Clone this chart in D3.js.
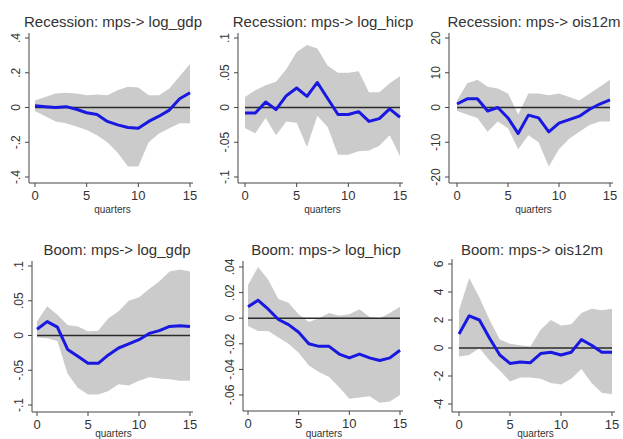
<!DOCTYPE html>
<html><head><meta charset="utf-8">
<script src="https://cdn.jsdelivr.net/npm/d3@7"></script>
<style>body{margin:0;background:#fff}svg{display:block}</style>
</head><body>
<script>
const quarters = d3.range(0,16);
const xTicks = [0,5,10,15];

const titles = ["Recession: mps-> log_gdp","Recession: mps-> log_hicp","Recession: mps-> ois12m",
                "Boom: mps-> log_gdp","Boom: mps-> log_hicp","Boom: mps-> ois12m"];

// Recession log_gdp
const recGdpIrf = [0.01,0.005,0,0.005,-0.01,-0.03,-0.04,-0.08,-0.1,-0.115,-0.12,-0.08,-0.05,-0.015,0.05,0.085];
const recGdpHi  = [0.04,0.06,0.08,0.085,0.08,0.07,0.075,0.07,0.1,0.12,0.115,0.07,0.07,0.11,0.18,0.25];
const recGdpLo  = [-0.02,-0.05,-0.08,-0.09,-0.11,-0.13,-0.16,-0.2,-0.26,-0.34,-0.34,-0.2,-0.15,-0.12,-0.09,-0.09];
// Recession log_hicp
const recHicpIrf = [-0.008,-0.008,0.008,-0.003,0.017,0.028,0.016,0.036,0.013,-0.01,-0.01,-0.006,-0.02,-0.016,-0.002,-0.014];
const recHicpHi  = [0.015,0.025,0.032,0.037,0.055,0.08,0.09,0.085,0.06,0.05,0.05,0.052,0.022,0.022,0.035,0.045];
const recHicpLo  = [-0.03,-0.037,-0.015,-0.04,-0.02,-0.022,-0.057,-0.012,-0.028,-0.068,-0.068,-0.063,-0.062,-0.055,-0.04,-0.07];
// Recession ois12m
const recOisIrf = [1,2.5,2.5,-1,0,-3,-7.5,-2.2,-3,-7,-4.5,-3.5,-2.5,-0.5,1,2.2];
const recOisHi  = [2,7,8,6,5.5,4,-2,4,4,3.5,4,3,2,4,6,8];
const recOisLo  = [-1,-2,-3,-7,-4,-6,-12,-8,-10,-17,-12,-9,-7,-5,-4,-4];
// Boom log_gdp
const boomGdpIrf = [0.009,0.02,0.012,-0.02,-0.03,-0.04,-0.04,-0.028,-0.018,-0.012,-0.006,0.003,0.007,0.013,0.014,0.013];
const boomGdpHi  = [0.02,0.042,0.03,0.015,0.013,0.006,0.007,0.025,0.035,0.05,0.055,0.067,0.078,0.092,0.095,0.092];
const boomGdpLo  = [-0.003,-0.004,-0.008,-0.055,-0.075,-0.085,-0.085,-0.08,-0.07,-0.072,-0.065,-0.06,-0.062,-0.063,-0.065,-0.065];
// Boom log_hicp
const boomHicpIrf = [0.009,0.014,0.007,-0.001,-0.005,-0.011,-0.02,-0.022,-0.022,-0.028,-0.031,-0.028,-0.031,-0.033,-0.031,-0.025];
const boomHicpHi  = [0.026,0.04,0.03,0.015,0.012,0.003,-0.003,0,0.004,0.002,0.003,0.007,0.001,0,0.004,0.009];
const boomHicpLo  = [-0.006,-0.01,-0.01,-0.015,-0.02,-0.027,-0.037,-0.042,-0.046,-0.054,-0.063,-0.062,-0.061,-0.066,-0.065,-0.06];
// Boom ois12m
const boomOisIrf = [1,2.3,2,0.7,-0.5,-1.1,-1,-1.05,-0.4,-0.3,-0.5,-0.3,0.6,0.2,-0.3,-0.3];
const boomOisHi  = [2.7,5,3.6,2,0.6,0.3,0.2,0.1,1.3,2,1.6,1.7,2.5,2.8,2.7,2.8];
const boomOisLo  = [-0.6,-0.5,0,-0.9,-1.6,-2.4,-2.1,-2.1,-2.2,-2.5,-2.6,-2.2,-1.5,-2.5,-3.2,-3.3];

const yTickVals = [
  [-0.4,-0.2,0,0.2,0.4],[-0.1,-0.05,0,0.05,0.1],[-20,-10,0,10,20],
  [-0.1,-0.05,0,0.05,0.1],[-0.06,-0.04,-0.02,0,0.02,0.04],[-4,-2,0,2,4,6]];
const yTickLabels = [
  ["-.4","-.2","0",".2",".4"],["-.1","-.05","0",".05",".1"],["-20","-10","0","10","20"],
  ["-.1","-.05","0",".05",".1"],["-.06","-.04","-.02","0",".02",".04"],["-4","-2","0","2","4","6"]];

const irfs = [recGdpIrf,recHicpIrf,recOisIrf,boomGdpIrf,boomHicpIrf,boomOisIrf];
const his = [recGdpHi,recHicpHi,recOisHi,boomGdpHi,boomHicpHi,boomOisHi];
const los = [recGdpLo,recHicpLo,recOisLo,boomGdpLo,boomHicpLo,boomOisLo];

// layout (pixels)
const layout = [
  {ax:29, x0:35, x1:190, yTopV:0.4, yTop:38, yBotV:-0.4, yBot:177, axTop:33, axBot:183, tx:113, ty:27, qy:30},
  {ax:238, x0:245, x1:400, yTopV:0.1, yTop:38, yBotV:-0.1, yBot:177, axTop:33, axBot:183, tx:323, ty:27, qy:30},
  {ax:449, x0:457, x1:610, yTopV:20, yTop:38, yBotV:-20, yBot:177, axTop:33, axBot:183, tx:534, ty:27, qy:30},
  {ax:32, x0:37, x1:190, yTopV:0.1, yTop:266, yBotV:-0.1, yBot:405, axTop:261, axBot:412, tx:117, ty:255, qy:25},
  {ax:243, x0:248, x1:400, yTopV:0.04, yTop:267, yBotV:-0.06, yBot:395, axTop:261, axBot:411, tx:326, ty:255, qy:26},
  {ax:452, x0:459, x1:612, yTopV:6, yTop:264, yBotV:-4, yBot:404, axTop:259, axBot:412, tx:532, ty:255, qy:25}
];

const svg = d3.select("body").append("svg").attr("width",623).attr("height",439)
  .style("font-family","'Liberation Sans', Arial, sans-serif");

layout.forEach((L,i)=>{
  const x = d3.scaleLinear().domain([0,15]).range([L.x0,L.x1]);
  const y = d3.scaleLinear().domain([L.yBotV,L.yTopV]).range([L.yBot,L.yTop]);
  const g = svg.append("g");
  const data = quarters.map((q,k)=>({q, v:irfs[i][k], hi:his[i][k], lo:los[i][k]}));
  g.append("path").datum(data)
    .attr("d", d3.area().x(d=>x(d.q)).y0(d=>y(d.lo)).y1(d=>y(d.hi)))
    .attr("fill","#cbcbcb");
  g.append("line").attr("x1",x(0)).attr("x2",x(15)).attr("y1",y(0)).attr("y2",y(0))
    .attr("stroke","#2a2a2a").attr("stroke-width",1.4);
  g.append("path").datum(data)
    .attr("d", d3.line().x(d=>x(d.q)).y(d=>y(d.v)))
    .attr("fill","none").attr("stroke","#1818e0").attr("stroke-width",3).attr("stroke-linejoin","round");
  // y axis
  const ya = g.append("g").attr("transform",`translate(${L.ax},0)`);
  ya.append("line").attr("x1",0).attr("x2",0).attr("y1",L.axTop).attr("y2",L.axBot).attr("stroke","#444").attr("stroke-width",1);
  yTickVals[i].forEach((v,j)=>{
    ya.append("line").attr("x1",-4).attr("x2",0).attr("y1",y(v)).attr("y2",y(v)).attr("stroke","#444");
    ya.append("text").attr("transform",`translate(-9,${y(v)}) rotate(-90)`)
      .attr("text-anchor","middle").attr("font-size",12).attr("fill","#333").text(yTickLabels[i][j]);
  });
  // x axis
  const xa = g.append("g").attr("transform",`translate(0,${L.axBot})`);
  xa.append("line").attr("x1",L.ax).attr("x2",x(15)+3).attr("y1",0).attr("y2",0).attr("stroke","#444");
  xTicks.forEach(t=>{
    xa.append("line").attr("x1",x(t)).attr("x2",x(t)).attr("y1",0).attr("y2",4).attr("stroke","#444");
    xa.append("text").attr("x",x(t)).attr("y",17).attr("text-anchor","middle").attr("font-size",13).attr("fill","#333").text(t);
  });
  xa.append("text").attr("x",(x(0)+x(15))/2).attr("y",L.qy).attr("text-anchor","middle").attr("font-size",10).attr("fill","#333").text("quarters");
  g.append("text").attr("x",L.tx).attr("y",L.ty).attr("text-anchor","middle").attr("font-size",15).attr("fill","#333").text(titles[i]);
});
</script>
</body></html>
